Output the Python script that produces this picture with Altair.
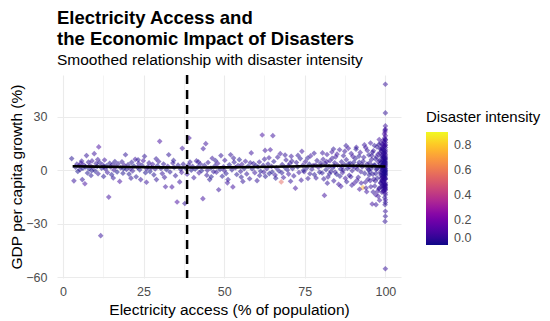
import altair as alt
import pandas as pd

# (electricity access %, GDP per capita growth %, disaster intensity)
seg1 = [(2.7,6.6,.02),(3.4,-5.9,.05),(3.9,1.8,.01),(4.3,3.5,.03),(4.6,-0.6,.0),(5.0,2.6,.04),(5.3,0.4,.02),(5.6,4.1,.06),(6.0,-5.2,.03),(6.2,1.2,.0),(6.5,3.0,.05),(6.8,-7.5,.08),(7.0,2.0,.02),(7.3,8.3,.04),(7.6,-1.5,.01),(7.9,4.6,.03),(8.1,0.9,.0),(8.4,2.7,.07),(8.7,-2.9,.02),(9.0,5.3,.05),(9.3,1.6,.03),(9.7,9.4,.06),(10.0,-0.4,.01),(10.3,3.8,.04),(10.6,2.2,.0),(10.9,-1.9,.03),(11.1,13.2,.09),(11.4,4.4,.02),(11.7,-36.7,.05),(12.0,1.3,.01),(12.3,3.1,.04),(12.6,-3.4,.02),(12.9,5.8,.06),(13.2,0.7,.03),(13.5,2.5,.0),(13.8,-1.2,.05),(14.2,-15.0,.07),(14.5,4.0,.02),(14.8,1.9,.04),(15.1,-2.4,.01),(15.4,3.3,.03),(15.8,0.2,.06),(16.1,5.0,.02),(16.4,2.1,.05),(16.8,-0.9,.0),(17.1,3.7,.03),(17.6,-6.2,.08),(17.9,1.4,.02),(18.3,4.8,.04),(18.6,-1.6,.01),(19.0,2.9,.06),(19.4,8.8,.03),(19.7,0.5,.02),(5.8,5.2,.04),(8.9,-0.2,.01),(10.8,6.1,.05),(12.7,2.0,.02),(15.6,-4.3,.03),(18.8,0.9,.0)]

seg2 = [(20.2,3.2,.03),(20.5,-2.1,.01),(20.9,1.0,.05),(21.3,4.5,.02),(21.6,-0.3,.04),(22.0,2.4,.0),(22.4,6.2,.06),(22.7,-3.6,.02),(23.1,1.7,.03),(23.5,3.9,.05),(23.8,0.3,.01),(24.1,-5.2,.04),(24.5,2.8,.02),(24.9,5.4,.07),(25.3,7.9,.03),(25.6,-1.3,.01),(25.9,-6.7,.05),(26.3,2.0,.02),(26.7,4.2,.04),(27.0,-0.7,.0),(27.4,1.5,.03),(27.8,3.4,.06),(28.2,-2.5,.02),(28.6,0.8,.04),(29.0,-5.2,.03),(29.3,2.6,.01),(29.7,5.0,.05),(30.0,16.3,.08),(30.4,1.1,.02),(30.8,-1.8,.04),(31.2,3.6,.03),(31.8,-9.2,.06),(32.1,0.4,.01),(32.5,2.3,.05),(32.8,8.8,.03),(33.2,-0.9,.02),(33.8,-9.3,.07),(34.1,4.1,.04),(34.5,1.6,.0),(34.9,-3.0,.03),(35.4,-17.8,.09),(35.7,2.9,.02),(36.2,-6.5,.05),(36.5,0.6,.01),(37.0,12.4,.06),(37.3,3.5,.03),(37.8,-18.6,.04),(38.1,1.2,.02),(38.5,-2.2,.05),(39.1,18.2,.07),(39.4,4.7,.03),(39.8,0.1,.01),(21.1,-4.4,.03),(23.3,5.9,.02),(26.0,0.9,.05),(28.9,6.5,.03),(31.5,-3.9,.04),(34.3,5.6,.02),(36.8,-1.1,.06),(38.9,3.0,.03)]

seg3 = [(40.2,2.2,.03),(40.6,-4.1,.05),(41.0,0.7,.01),(41.4,5.3,.04),(41.8,1.9,.02),(42.2,-1.4,.06),(42.6,3.6,.03),(43.0,-0.2,.0),(43.4,-15.9,.07),(43.5,12.2,.05),(43.9,2.8,.02),(44.3,15.0,.06),(44.6,-2.7,.03),(45.0,4.4,.04),(45.5,-5.2,.02),(45.9,1.3,.01),(46.3,6.8,.05),(46.7,-0.8,.03),(47.1,2.5,.02),(47.6,-1.0,.04),(48.0,3.9,.06),(48.3,-10.9,.05),(48.7,0.5,.01),(49.0,8.3,.04),(49.4,-3.3,.02),(49.8,2.0,.03),(50.2,5.7,.05),(50.6,-1.7,.02),(51.0,-7.0,.06),(51.2,-5.2,.03),(51.6,3.1,.01),(52.0,8.8,.04),(52.4,0.3,.02),(52.7,-9.3,.07),(53.1,4.6,.03),(53.5,1.5,.05),(53.9,-2.3,.02),(54.3,2.7,.04),(54.7,6.0,.01),(55.1,-0.6,.03),(55.5,3.4,.06),(55.8,-6.2,.04),(56.2,1.0,.02),(56.6,5.1,.05),(57.0,-2.0,.03),(57.4,2.3,.01),(57.9,-4.7,.04),(58.4,9.8,.06),(58.7,0.8,.02),(59.1,3.8,.03),(59.5,-1.3,.05),(59.9,2.6,.02),(42.0,4.8,.03),(44.8,0.0,.04),(47.3,5.5,.02),(50.0,-0.1,.05),(52.9,6.9,.03),(55.3,-3.8,.02),(58.1,4.3,.04),(46.0,-3.6,.01)]

seg4 = [(60.2,-5.8,.04),(60.5,1.9,.02),(60.9,4.7,.05),(61.3,-0.5,.01),(61.8,19.9,.08),(62.1,2.8,.03),(62.5,6.3,.04),(62.7,11.2,.06),(62.8,-3.4,.02),(63.2,0.9,.05),(63.6,3.6,.03),(64.0,-1.8,.01),(64.3,11.6,.07),(64.7,2.2,.04),(65.1,19.5,.06),(65.4,5.0,.02),(65.8,-2.6,.05),(66.2,1.4,.03),(66.6,7.4,.04),(67.0,-0.3,.02),(67.4,9.4,.06),(67.7,-6.5,.55),(68.0,3.3,.03),(68.4,-4.0,.05),(68.8,1.7,.01),(69.2,5.8,.04),(69.6,0.2,.02),(70.0,-2.1,.06),(70.4,3.9,.03),(70.8,7.9,.05),(71.2,1.0,.02),(71.6,-3.1,.04),(72.1,-10.0,.07),(72.4,4.4,.03),(72.8,2.0,.01),(73.2,-1.2,.05),(73.6,6.6,.02),(74.1,10.7,.06),(74.4,2.9,.04),(74.8,-0.8,.03),(75.2,4.9,.05),(75.6,1.3,.02),(76.0,-4.6,.04),(76.4,3.5,.01),(76.8,8.1,.06),(77.2,0.6,.03),(77.6,2.7,.05),(78.0,-2.4,.02),(78.5,-4.3,.04),(78.8,5.5,.03),(79.2,1.8,.06),(79.6,-1.0,.02),(61.0,-2.9,.03),(63.9,7.1,.05),(66.0,-4.4,.02),(68.9,8.6,.04),(71.0,5.2,.03),(73.9,-5.5,.05),(75.9,6.9,.02),(77.9,9.6,.04),(79.9,4.1,.03),(64.9,-0.9,.01),(69.9,2.5,.05),(74.6,0.0,.02),(76.6,-1.9,.03),(78.3,3.0,.06),(70.6,-6.1,.04),(72.9,8.4,.03),(67.9,-1.4,.02),(62.3,-1.0,.05)]

seg5 = [(80.1,2.6,.04),(80.4,-1.5,.02),(80.7,6.2,.05),(81.1,-14.1,.07),(81.3,3.9,.03),(81.6,0.4,.01),(81.9,8.9,.06),(82.2,-3.7,.04),(82.5,2.1,.02),(82.8,5.4,.05),(83.1,-0.6,.03),(83.4,10.3,.06),(83.7,1.5,.02),(84.0,-5.9,.04),(84.3,4.3,.03),(84.6,7.6,.05),(84.9,-2.2,.01),(85.2,2.9,.04),(85.5,-7.8,.06),(85.8,11.6,.05),(86.1,0.8,.02),(86.4,4.8,.03),(86.7,-1.3,.05),(87.0,8.2,.04),(87.3,3.2,.02),(87.6,-4.5,.06),(87.9,6.0,.03),(88.2,1.1,.01),(88.5,12.4,.07),(88.8,-2.8,.04),(89.1,4.0,.02),(89.4,9.5,.05),(89.7,-0.2,.03),(90.0,2.4,.04),(90.4,-7.1,.06),(90.7,6.7,.02),(91.0,13.0,.05),(91.3,0.6,.03),(91.6,-3.9,.04),(91.9,4.5,.02),(92.2,10.1,.06),(92.5,-7.1,.05),(92.8,2.0,.03),(93.0,-9.7,.75),(93.3,7.3,.04),(93.6,-1.7,.02),(93.9,12.8,.06),(94.0,-9.9,.05),(94.3,3.6,.03),(94.6,-5.0,.04),(94.9,8.7,.02),(80.9,-4.8,.03),(81.8,4.9,.05),(82.7,-1.9,.02),(83.5,6.8,.04),(84.4,-0.9,.03),(85.0,9.1,.06),(85.9,-3.3,.02),(86.6,2.2,.04),(87.4,10.7,.05),(88.0,-6.4,.03),(88.6,3.7,.02),(89.3,-3.6,.04),(89.9,7.9,.06),(90.6,1.6,.03),(91.2,-5.6,.05),(91.8,8.0,.02),(92.4,-0.8,.04),(93.1,5.1,.03),(93.8,-6.7,.05),(94.4,11.2,.04),(94.8,0.3,.02),(80.5,9.8,.05),(82.0,-7.2,.04),(83.9,12.0,.03),(86.2,-9.0,.06),(87.8,13.9,.04),(89.6,-8.3,.05),(90.9,11.9,.02),(92.0,-10.6,.07),(93.5,14.3,.05),(94.2,-12.0,.06),(84.1,2.5,.02),(86.9,0.1,.03),(88.9,1.9,.04),(90.2,4.6,.02),(91.5,2.8,.05),(92.7,3.3,.03),(94.5,1.2,.04),(95.0,-2.6,.02)]

seg6 = [(95.1,4.2,.03),(95.3,-5.8,.05),(95.4,15.4,.06),(95.6,1.0,.02),(95.8,8.3,.04),(95.9,-18.9,.07),(96.1,-2.1,.03),(96.3,11.0,.05),(96.5,3.0,.01),(96.7,-8.8,.04),(96.9,6.5,.02),(97.0,-13.7,.06),(97.1,-19.3,.05),(97.2,0.5,.03),(97.4,13.2,.04),(97.5,-4.4,.02),(97.7,9.1,.05),(97.8,-14.6,.06),(97.9,2.3,.03),(98.0,-10.5,.04),(98.1,17.3,.07),(98.1,-9.9,.05),(98.2,5.7,.02),(98.3,-1.2,.04),(98.4,12.1,.03),(98.5,-6.9,.05),(95.2,-0.9,.02),(95.7,6.1,.04),(96.0,10.2,.03),(96.4,-4.9,.05),(96.8,2.9,.02),(97.3,7.6,.04),(97.6,-11.7,.06),(98.0,14.6,.03),(98.4,3.8,.02),(95.5,-9.2,.05),(96.2,-12.1,.04),(96.6,14.0,.03),(97.0,-1.8,.02),(97.8,4.9,.05),(98.2,-16.8,.06),(95.9,2.6,.03),(96.9,-6.0,.04),(97.4,0.9,.02),(98.3,9.6,.05)]

seg7 = [(98.6,2.1,.03),(98.7,-4.5,.05),(98.8,7.9,.02),(98.9,-9.1,.04),(99.0,12.6,.06),(99.0,0.3,.03),(99.1,-2.8,.02),(99.2,5.4,.05),(99.3,16.8,.07),(99.3,-6.6,.04),(99.4,3.7,.03),(99.5,-11.4,.06),(99.5,9.3,.02),(99.6,-0.9,.04),(99.7,1.8,.03),(99.7,20.5,.08),(99.8,-3.9,.05),(99.8,6.2,.02),(99.9,-8.2,.04),(99.9,14.1,.06),(100.0,2.9,.03),(100.0,-12.6,.07),(100.0,23.1,.09),(100.0,-1.7,.02),(100.0,10.4,.05),
        (98.6,-7.2,.04),(98.7,10.8,.03),(98.8,-1.3,.05),(98.9,4.6,.02),(99.0,-5.5,.04),(99.1,8.5,.06),(99.2,-10.0,.03),(99.3,1.1,.02),(99.4,13.9,.05),(99.5,-3.3,.04),(99.6,6.9,.03),(99.7,-7.8,.05),(99.8,18.2,.07),(99.9,0.7,.02),(100.0,-5.0,.04),(100.0,15.6,.06),(100.0,5.8,.03),(100.0,-9.4,.05),(100.0,-0.4,.02),(100.0,8.1,.04),
        (98.6,15.2,.05),(98.7,1.4,.02),(98.9,-12.3,.06),(99.0,6.0,.03),(99.1,-0.1,.02),(99.2,11.7,.04),(99.3,-4.1,.05),(99.4,-8.8,.03),(99.5,4.2,.02),(99.6,16.0,.06),(99.7,-2.2,.04),(99.8,9.8,.03),(99.9,-10.7,.05),(99.9,3.3,.02),(100.0,12.9,.04),(100.0,-6.9,.05),(100.0,19.4,.08),(100.0,1.0,.03),(100.0,-3.0,.02),(100.0,6.6,.04),
        (98.6,-2.6,.03),(98.8,12.0,.05),(98.9,-6.0,.04),(99.0,3.0,.02),(99.1,-8.6,.05),(99.2,7.3,.03),(99.3,-1.9,.02),(99.4,10.0,.04),(99.5,0.9,.03),(99.6,-5.2,.05),(99.7,13.4,.06),(99.8,-9.6,.04),(99.9,5.0,.02),(99.9,21.6,.09),(100.0,-11.0,.06),(100.0,3.9,.03),(100.0,-7.8,.04),(100.0,11.5,.05),(100.0,-2.3,.02),(100.0,17.4,.07),
        (99.0,-3.8,.04),(99.2,2.5,.02),(99.4,-6.3,.05),(99.6,11.1,.03),(99.8,-0.6,.02),(100.0,4.5,.04),(100.0,-4.4,.03),(100.0,9.0,.05),(100.0,-8.5,.04),(100.0,0.1,.02),(99.1,14.7,.06),(99.3,-11.9,.05),(99.5,7.7,.03),(99.7,4.8,.02),(99.9,-4.8,.04),(100.0,14.3,.06),(100.0,-10.2,.05),(100.0,7.2,.03),(100.0,-1.1,.02),(100.0,2.0,.04),
        (100.0,48.4,.05),(100.0,32.3,.04),(100.0,25.0,.06),(99.9,22.6,.05),(100.0,17.0,.04),(100.0,-13.7,.05),(100.0,-16.5,.06),(99.9,-19.3,.04),(100.0,-23.0,.05),(100.0,-25.8,.03),(99.9,-28.7,.04),(100.0,-55.3,.05),(99.8,-15.2,.04),(100.0,-18.0,.03)]

smooth_x = [3, 10, 20, 30, 40, 50, 60, 70, 80, 85, 90, 95, 100]
smooth_y = [2.3, 2.1, 1.9, 1.7, 1.6, 1.7, 1.9, 2.2, 2.5, 2.6, 2.6, 2.4, 2.2]
threshold = [38.5]

x_ticks = [0, 12.5, 25, 37.5, 50, 62.5, 75, 87.5, 100]
y_ticks = [-60, -45, -30, -15, 0, 15, 30, 45]
legend_ticks = [0.0, 0.2, 0.4, 0.6, 0.8]

points = seg1 + seg2 + seg3 + seg4 + seg5 + seg6 + seg7
df = pd.DataFrame(points, columns=["access", "growth", "intensity"])
smooth_df = pd.DataFrame({"access": smooth_x, "growth": smooth_y})
rule_df = pd.DataFrame({"access": threshold})

FONT = "Liberation Sans"
x_scale = alt.Scale(domain=[-1.85, 104.85], nice=False, zero=False)
y_scale = alt.Scale(domain=[-60.5, 53.6], nice=False, zero=False)

x_axis = alt.Axis(
    title="Electricity access (% of population)",
    values=x_ticks,
    labelExpr="datum.value % 25 === 0 ? format(datum.value, 'd') : ''",
    gridWidth={"condition": {"test": "datum.value % 25 === 0", "value": 1.1}, "value": 0.55},
    labelPadding=7, titlePadding=5,
)
y_axis = alt.Axis(
    title="GDP per capita growth (%)",
    values=y_ticks,
    labelExpr="datum.value % 30 === 0 ? format(datum.value, 'd') : ''",
    gridWidth={"condition": {"test": "datum.value % 30 === 0", "value": 1.1}, "value": 0.55},
    labelPadding=10, titlePadding=1,
)

pts = alt.Chart(df).mark_point(filled=True, shape="diamond", size=32, fillOpacity=0.5, strokeWidth=0).encode(
    x=alt.X("access:Q", scale=x_scale, axis=x_axis),
    y=alt.Y("growth:Q", scale=y_scale, axis=y_axis),
    color=alt.Color(
        "intensity:Q",
        scale=alt.Scale(scheme="plasma", domain=[0, 0.9]),
        legend=alt.Legend(
            title="Disaster intensity", orient="none", legendX=369, legendY=35,
            direction="vertical", gradientLength=113, gradientThickness=22,
            values=legend_ticks, format=".1f", titleFontSize=15, labelFontSize=12.5,
            titleFontWeight="normal", titleColor="black", labelColor="#4d4d4d",
            titlePadding=7, labelOffset=6, gradientStrokeWidth=0, titleFont=FONT, labelFont=FONT,
        ),
    ),
)

line = alt.Chart(smooth_df).mark_line(color="black", strokeWidth=2.6).encode(
    x=alt.X("access:Q", scale=x_scale),
    y=alt.Y("growth:Q", scale=y_scale),
)

rule = alt.Chart(rule_df).mark_rule(color="black", strokeWidth=2.5, strokeDash=[9, 6]).encode(
    x=alt.X("access:Q", scale=x_scale),
)

chart = alt.layer(pts, line, rule).properties(
    width=344, height=203,
    title=alt.Title(
        text=["Electricity Access and", "the Economic Impact of Disasters"],
        subtitle="Smoothed relationship with disaster intensity",
        anchor="start", frame="group", font=FONT, fontSize=18.5, fontWeight="bold",
        lineHeight=21, color="black", subtitleFont=FONT, subtitleFontSize=15.5,
        subtitleColor="black", subtitlePadding=4.5, offset=5,
    ),
    padding={"left": 49, "top": 67, "right": 141, "bottom": 43},
    autosize=alt.AutoSizeParams(type="none"),
).configure_view(stroke=None).configure_axis(
    domain=False, ticks=False, gridColor="#ebebeb",
    labelFont=FONT, labelFontSize=12.5, labelColor="#4d4d4d",
    titleFont=FONT, titleFontSize=15.5, titleFontWeight="normal", titleColor="black",
)

chart.save("out.html", embed_options={"renderer": "svg", "actions": False})
